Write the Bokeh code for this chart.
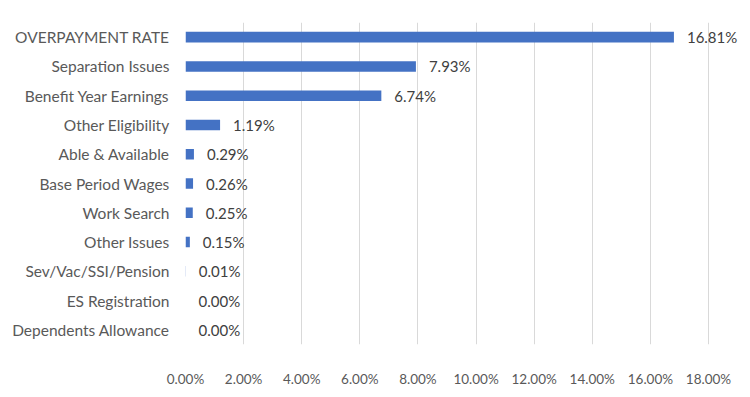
from bokeh.plotting import figure
from bokeh.models import ColumnDataSource, FactorRange, FixedTicker, Range1d
from bokeh.core.properties import value
from bokeh.embed import file_html
from bokeh.resources import INLINE

categories = ["OVERPAYMENT RATE", "Separation Issues", "Benefit Year Earnings",
              "Other Eligibility", "Able & Available", "Base Period Wages",
              "Work Search", "Other Issues", "Sev/Vac/SSI/Pension",
              "ES Registration", "Dependents Allowance"]
rates = [16.81, 7.93, 6.74, 1.19, 0.29, 0.26, 0.25, 0.15, 0.01, 0.00, 0.00]
x_ticks = [0, 2, 4, 6, 8, 10, 12, 14, 16, 18]
x_tick_labels = ["0.00%", "2.00%", "4.00%", "6.00%", "8.00%", "10.00%",
                 "12.00%", "14.00%", "16.00%", "18.00%"]

FONT = "Lato"
TXT = "#595959"

src = ColumnDataSource(dict(cat=categories, rate=rates,
                            label=[f"{v:.2f}%" for v in rates]))

p = figure(width=742, height=389, output_backend="svg", toolbar_location=None,
           y_range=FactorRange(factors=categories[::-1], range_padding=0),
           x_range=Range1d(0, 19.17),
           min_border_left=185, min_border_right=0, min_border_top=22,
           min_border_bottom=37)
p.outline_line_color = None
p.background_fill_color = "white"
p.border_fill_color = "white"

p.hbar(y="cat", right="rate", left=0, height=0.36, source=src,
       fill_color="#4472C4", line_color=None)
p.text(x="rate", y="cat", text="label", source=src, x_offset=13,
       text_baseline="middle", text_align="left", text_font=value(FONT),
       text_font_size="15px", text_color="#404040")

p.xaxis.ticker = FixedTicker(ticks=x_ticks)
p.xaxis.major_label_overrides = {t: l for t, l in zip(x_ticks, x_tick_labels)}
p.xaxis.axis_line_color = None
p.xaxis.major_tick_line_color = None
p.xaxis.minor_tick_line_color = None
p.xaxis.major_label_standoff = 20
p.xaxis.major_label_text_font = FONT
p.xaxis.major_label_text_font_size = "13.5px"
p.xaxis.major_label_text_color = TXT

p.yaxis.axis_line_color = None
p.yaxis.major_tick_line_color = None
p.yaxis.major_label_standoff = 10
p.yaxis.major_label_text_font = FONT
p.yaxis.major_label_text_font_size = "15.5px"
p.yaxis.major_label_text_color = TXT

p.xgrid.grid_line_color = "#D9D9D9"
p.xgrid.grid_line_width = 1
p.ygrid.grid_line_color = None

open("out.html", "w").write(file_html(p, INLINE))
